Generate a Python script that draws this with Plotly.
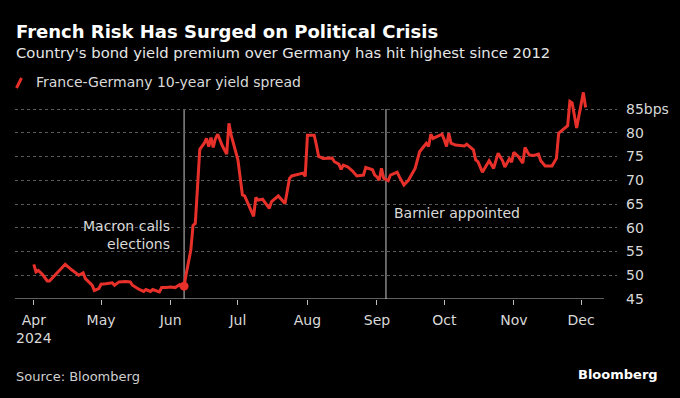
import plotly.graph_objects as go

# ---- data ----
dates = [
    "2024-04-01", "2024-04-02", "2024-04-03", "2024-04-05", "2024-04-07", "2024-04-08",
    "2024-04-15", "2024-04-17", "2024-04-18", "2024-04-20", "2024-04-21", "2024-04-23",
    "2024-04-24", "2024-04-27", "2024-04-28", "2024-04-30", "2024-05-01", "2024-05-03",
    "2024-05-06", "2024-05-07", "2024-05-09", "2024-05-12", "2024-05-14", "2024-05-15",
    "2024-05-18", "2024-05-20", "2024-05-21", "2024-05-23", "2024-05-24", "2024-05-27",
    "2024-05-28", "2024-05-30", "2024-06-01", "2024-06-03", "2024-06-05", "2024-06-06",
    "2024-06-07", "2024-06-08", "2024-06-10", "2024-06-11", "2024-06-12", "2024-06-13",
    "2024-06-14", "2024-06-16", "2024-06-17", "2024-06-18", "2024-06-19", "2024-06-20",
    "2024-06-21", "2024-06-22", "2024-06-24", "2024-06-26", "2024-06-27", "2024-06-28",
    "2024-07-01", "2024-07-03", "2024-07-04", "2024-07-08", "2024-07-09", "2024-07-10",
    "2024-07-12", "2024-07-15", "2024-07-16", "2024-07-19", "2024-07-22", "2024-07-24",
    "2024-07-25", "2024-07-30", "2024-07-31", "2024-08-01", "2024-08-04", "2024-08-05",
    "2024-08-06", "2024-08-08", "2024-08-12", "2024-08-13", "2024-08-15", "2024-08-16",
    "2024-08-17", "2024-08-19", "2024-08-21", "2024-08-23", "2024-08-26", "2024-08-27",
    "2024-08-30", "2024-08-31", "2024-09-01", "2024-09-02", "2024-09-03", "2024-09-04",
    "2024-09-06", "2024-09-07", "2024-09-10", "2024-09-11", "2024-09-13", "2024-09-15",
    "2024-09-18", "2024-09-20", "2024-09-23", "2024-09-24", "2024-09-25", "2024-09-26",
    "2024-09-30", "2024-10-01", "2024-10-02", "2024-10-03", "2024-10-04", "2024-10-06",
    "2024-10-10", "2024-10-11", "2024-10-14", "2024-10-15", "2024-10-16", "2024-10-18",
    "2024-10-20", "2024-10-21", "2024-10-23", "2024-10-25", "2024-10-27", "2024-10-28",
    "2024-10-30", "2024-10-31", "2024-11-01", "2024-11-03", "2024-11-05", "2024-11-06",
    "2024-11-07", "2024-11-08", "2024-11-10", "2024-11-12", "2024-11-13", "2024-11-15",
    "2024-11-18", "2024-11-20", "2024-11-21", "2024-11-23", "2024-11-25", "2024-11-26",
    "2024-11-27", "2024-11-29", "2024-11-30", "2024-12-02", "2024-12-03",
]
spread_bps = [
    52.3, 50.7, 51.0, 50.1, 48.8, 48.8,
    52.3, 51.4, 51.1, 50.4, 50.0, 50.5,
    49.3, 47.9, 46.8, 47.2, 48.1, 48.2,
    48.4, 47.9, 48.6, 48.7, 48.6, 47.9,
    47.0, 46.6, 47.0, 46.6, 47.0, 46.5,
    47.4, 47.4, 47.5, 47.4, 48.0, 47.5,
    47.7, 50.4, 55.3, 60.5, 60.9, 68.6,
    76.5, 77.8, 78.8, 77.1, 79.0, 76.9,
    78.8, 79.7, 77.3, 75.5, 82.0, 79.5,
    74.3, 66.9, 66.7, 62.4, 66.4, 65.8,
    66.0, 64.1, 65.5, 66.7, 65.1, 70.4,
    70.9, 71.5, 70.8, 79.5, 79.5, 77.4,
    75.0, 74.6, 74.7, 73.9, 73.4, 72.3,
    73.2, 72.8, 72.0, 70.9, 71.1, 72.7,
    72.2, 71.1, 70.7, 70.0, 72.5, 70.4,
    69.9, 71.1, 71.7, 70.7, 69.0, 70.0,
    72.5, 76.0, 77.8, 77.1, 79.7, 78.8,
    79.7, 78.5, 77.1, 79.9, 77.8, 77.4,
    77.2, 77.6, 76.4, 74.3, 73.9, 71.7,
    73.4, 74.1, 72.5, 75.7, 74.1, 72.8,
    74.5, 73.8, 75.9, 75.0, 73.6, 76.9,
    76.0, 75.3, 75.2, 75.5, 74.1, 73.0,
    73.0, 74.6, 79.9, 80.8, 81.5, 86.6,
    86.3, 81.0, 83.8, 88.5, 85.3,
]

event_dates = ["2024-06-07", "2024-09-05"]
event_labels = ["Macron calls<br>elections", "Barnier appointed"]

x_tick_vals = ["2024-04-01", "2024-05-01", "2024-06-01", "2024-07-01", "2024-08-01",
               "2024-09-01", "2024-10-01", "2024-11-01", "2024-12-01"]
x_tick_text = ["Apr<br>2024", "May", "Jun", "Jul", "Aug", "Sep", "Oct", "Nov", "Dec"]
y_tick_vals = [45, 50, 55, 60, 65, 70, 75, 80, 85]
y_tick_text = ["45", "50", "55", "60", "65", "70", "75", "80", "85bps"]

title = "French Risk Has Surged on Political Crisis"
subtitle = "Country's bond yield premium over Germany has hit highest since 2012"
legend_label = "France-Germany 10-year yield spread"
source = "Source: Bloomberg"

# ---- layout geometry (pixels) ----
W, H = 680, 398
L, R, T, B = 15, 617, 90, 299
AXIS_END = 604


def px_x(px):
    return (px - L) / (R - L)


def px_y(py):
    return (B - py) / (B - T)


FONT = "'DejaVu Sans', 'Open Sans', sans-serif"
RED = "#e8302a"
GRID = "#5a5a5a"
TXT = "#d9d9d9"

fig = go.Figure()
fig.add_trace(go.Scatter(
    x=dates, y=spread_bps, mode="lines",
    line=dict(color=RED, width=3), hoverinfo="skip", showlegend=False,
))

# marker on the first event
ev_val = spread_bps[dates.index(event_dates[0])]
fig.add_trace(go.Scatter(
    x=[event_dates[0]], y=[ev_val], mode="markers",
    marker=dict(color=RED, size=9), hoverinfo="skip", showlegend=False,
))

shapes = []
for d in event_dates:
    shapes.append(dict(type="line", xref="x", yref="y", x0=d, x1=d, y0=45, y1=85,
                       line=dict(color="#c8c8c8", width=1), layer="below"))
shapes.append(dict(type="line", xref="paper", yref="y", x0=0, x1=px_x(AXIS_END), y0=45, y1=45,
                   line=dict(color="#bdbdbd", width=1.2)))
shapes.append(dict(type="line", xref="paper", yref="paper",
                   x0=px_x(16.5), x1=px_x(21.5), y0=px_y(88), y1=px_y(78),
                   line=dict(color=RED, width=3)))

annotations = [
    dict(text=f"<b>{title}</b>", xref="paper", yref="paper", x=px_x(14), y=px_y(31.5),
         xanchor="left", yanchor="middle", showarrow=False,
         font=dict(family=FONT, size=18, color="#ffffff")),
    dict(text=subtitle, xref="paper", yref="paper", x=px_x(14), y=px_y(52.5),
         xanchor="left", yanchor="middle", showarrow=False,
         font=dict(family=FONT, size=14.8, color="#e6e6e6")),
    dict(text=legend_label, xref="paper", yref="paper", x=px_x(34), y=px_y(82),
         xanchor="left", yanchor="middle", showarrow=False,
         font=dict(family=FONT, size=14, color=TXT)),
    dict(text=event_labels[0], xref="paper", yref="paper", x=px_x(172), y=px_y(234.5),
         xanchor="right", yanchor="middle", align="right", showarrow=False,
         font=dict(family=FONT, size=14, color=TXT)),
    dict(text=event_labels[1], xref="paper", yref="paper", x=px_x(392), y=px_y(212.5),
         xanchor="left", yanchor="middle", align="left", showarrow=False,
         font=dict(family=FONT, size=14, color=TXT)),
    dict(text=source, xref="paper", yref="paper", x=px_x(14), y=px_y(376),
         xanchor="left", yanchor="middle", showarrow=False,
         font=dict(family=FONT, size=13, color="#cfcfcf")),
    dict(text="<b>Bloomberg</b>", xref="paper", yref="paper", x=px_x(660), y=px_y(374.5),
         xanchor="right", yanchor="middle", showarrow=False,
         font=dict(family=FONT, size=13, color="#ffffff")),
]

fig.update_layout(
    width=W, height=H,
    paper_bgcolor="#000000", plot_bgcolor="#000000",
    margin=dict(l=L, r=W - R, t=T, b=H - B, pad=0),
    showlegend=False,
    shapes=shapes, annotations=annotations,
    font=dict(family=FONT, color=TXT),
)
fig.update_xaxes(
    type="date", range=["2024-03-23 15:00", "2024-12-17"],
    showgrid=False, zeroline=False, showline=False,
    tickmode="array", tickvals=x_tick_vals, ticktext=x_tick_text,
    ticks="outside", ticklen=5, tickwidth=1, tickcolor="#bdbdbd",
    tickfont=dict(family=FONT, size=14, color=TXT),
    ticklabelstandoff=3,
)
fig.update_yaxes(
    range=[45, 89], side="right",
    showgrid=True, gridcolor=GRID, gridwidth=1, griddash="dot",
    zeroline=False, showline=False,
    tickmode="array", tickvals=y_tick_vals, ticktext=y_tick_text,
    ticks="", tickfont=dict(family=FONT, size=14, color=TXT),
    ticklabelstandoff=8,
)

fig.write_html(
    "out.html",
    config={"displayModeBar": False},
    post_script="document.body.style.margin='0px';document.body.style.background='#000';",
)
